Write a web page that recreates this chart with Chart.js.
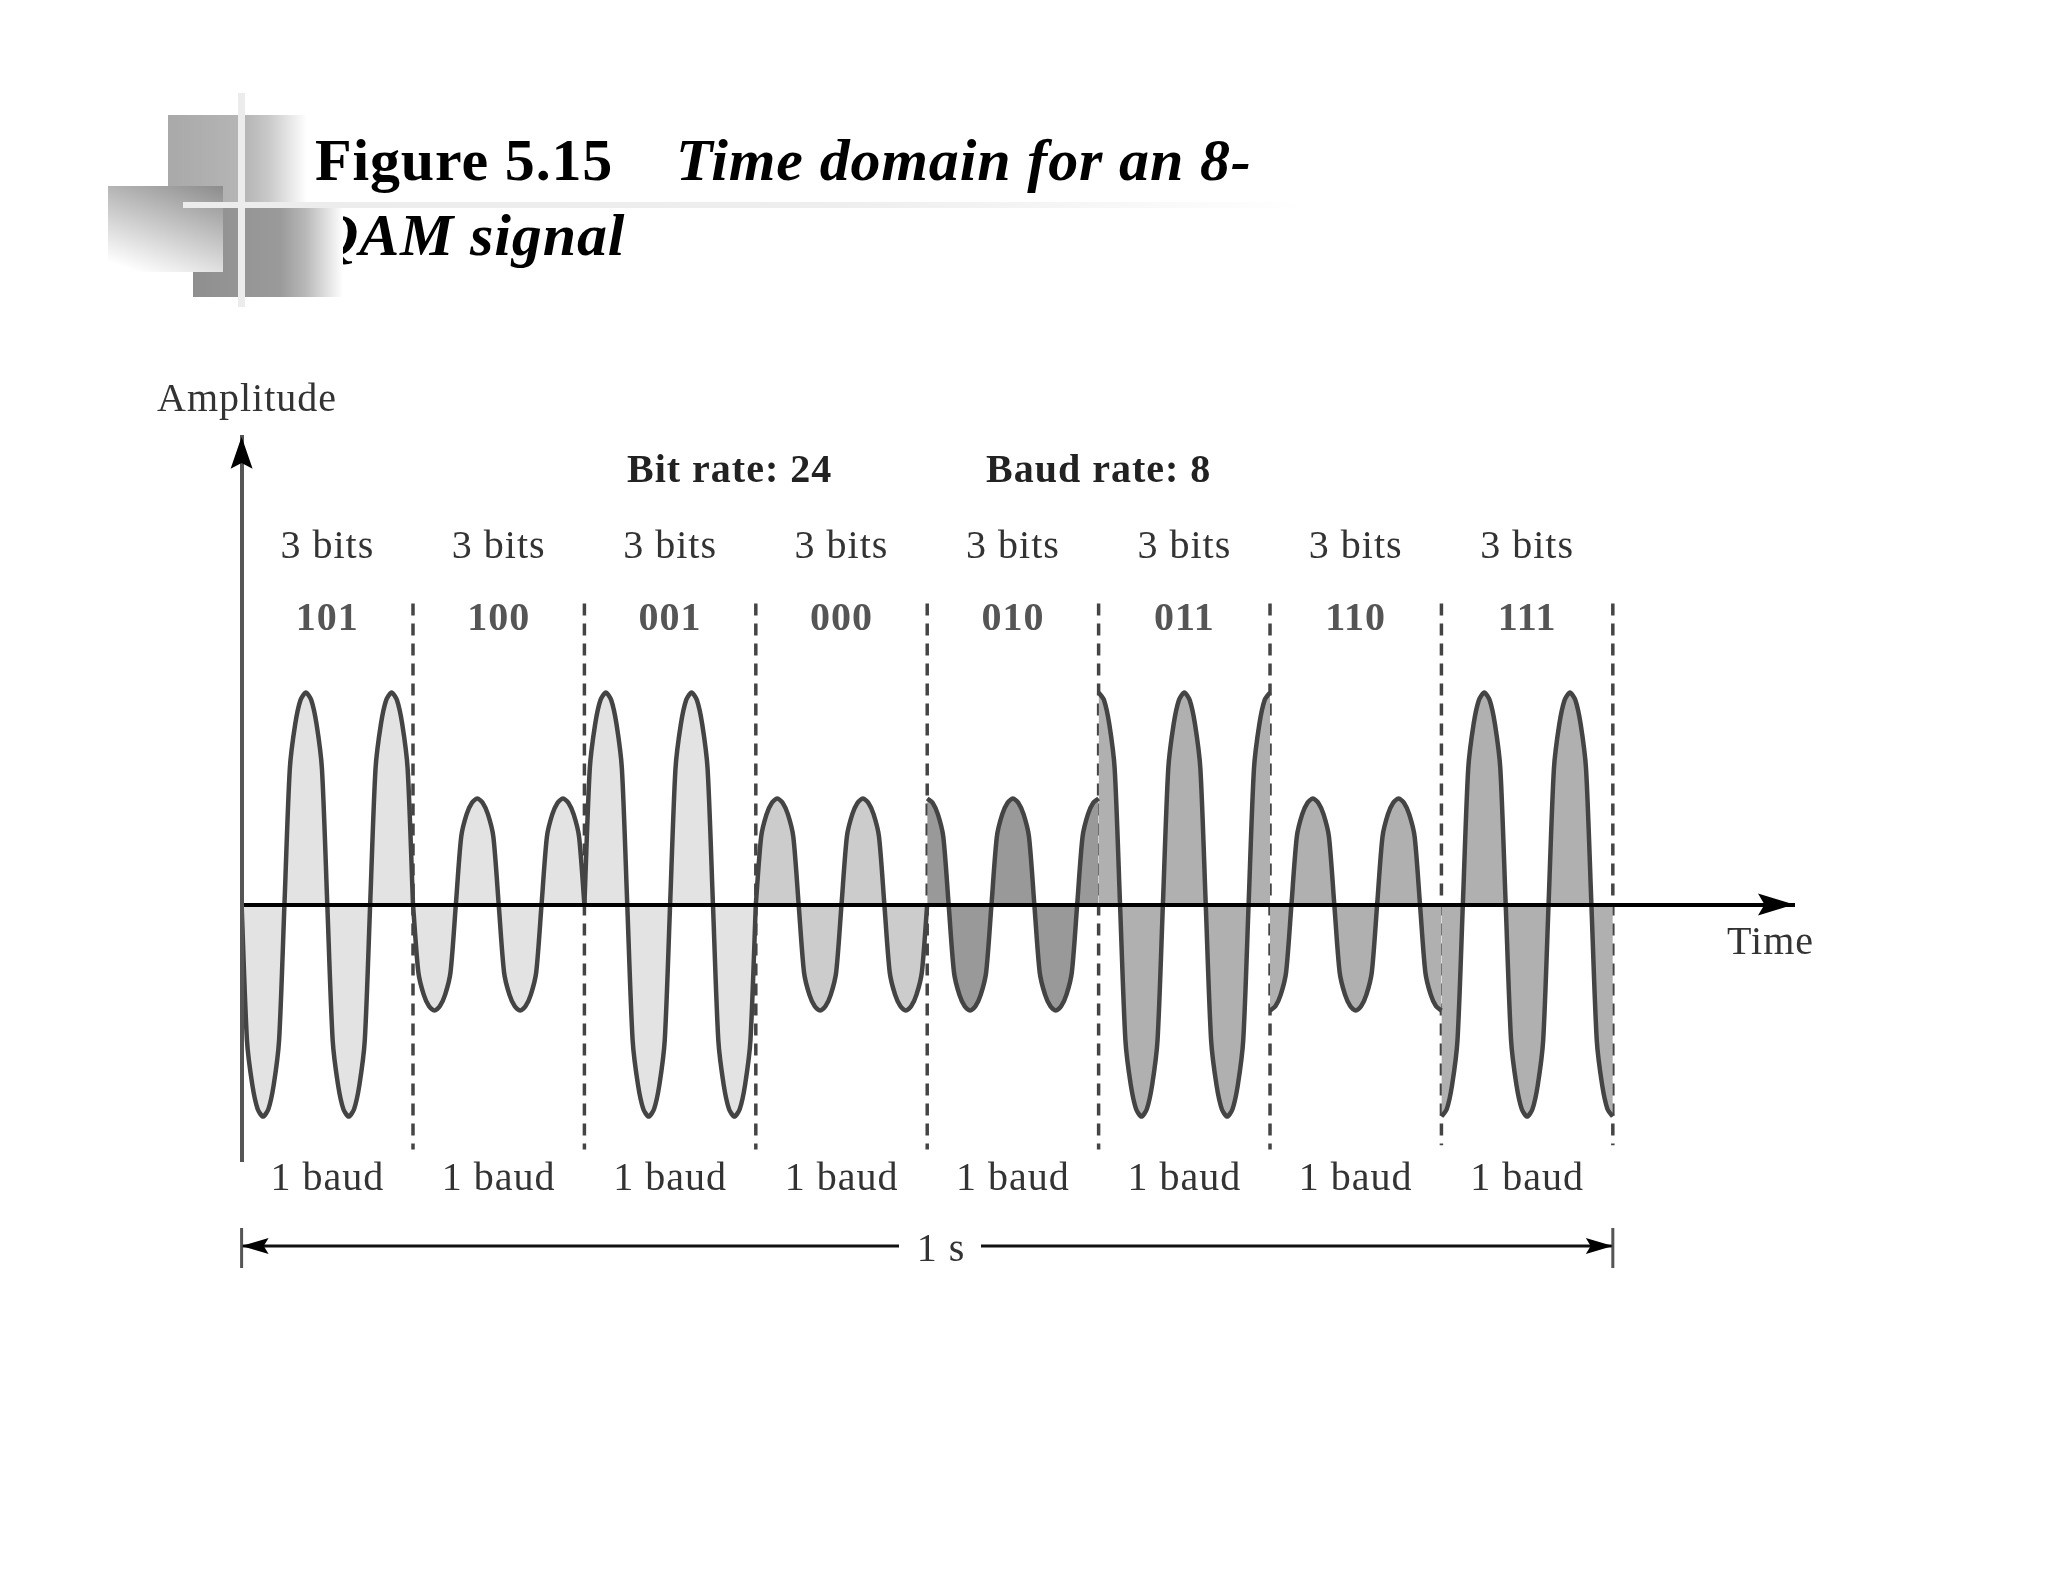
<!DOCTYPE html>
<html>
<head>
<meta charset="utf-8">
<title>Figure 5.15</title>
<script src="https://cdn.jsdelivr.net/npm/chart.js@4"></script>
<style>
  html, body { margin: 0; padding: 0; background: #fff; }
  #page { position: relative; width: 2048px; height: 1582px; overflow: hidden; }
  #wave { position: absolute; left: 0; top: 0; }
  .title { position: absolute; margin: 0; font: bold 60px/60px "Liberation Serif", serif; letter-spacing: 0.85px; color: #000; white-space: pre; }
  .title i { font-style: italic; }
  .deco { position: absolute; }
</style>
</head>
<body>
<div id="page">
  <canvas id="wave" width="2048" height="1582"></canvas>
  <div class="title" style="left:315px;top:130px">Figure 5.15</div>
  <div class="title" style="left:676px;top:130px"><i>Time domain for an 8-</i></div>
  <div class="title" style="left:315px;top:205px"><i>QAM signal</i></div>
  <!-- slide template decoration, sits over the title text -->
  <div class="deco" style="left:168px;top:115px;width:139px;height:87px;background:linear-gradient(to right,#a9a9a9 0,#b6b6b6 56%,#c8c8c8 72%,#ffffff 100%)"></div>
  <div class="deco" style="left:193px;top:208px;width:150px;height:89px;background:linear-gradient(to right,#8f8f8f 0,#9a9a9a 58%,#b8b8b8 75%,#ffffff 100%)"></div>
  <div class="deco" style="left:108px;top:186px;width:115px;height:86px;background:linear-gradient(200deg,#8c8c8c 0,#c4c4c4 45%,#ffffff 92%)"></div>
  <div class="deco" style="left:183px;top:202px;width:1126px;height:6px;background:linear-gradient(to right,#ececec 0,#eeeeee 58%,#f4f4f4 75%,#ffffff 100%)"></div>
  <div class="deco" style="left:238px;top:93px;width:7px;height:214px;background:#ececec"></div>
</div>

<script>
'use strict';

// ── Data ─────────────────────────────────────────────────────────────────────

const bitGroups = ['101', '100', '001', '000', '010', '011', '110', '111'];
const bitCounts = ['3 bits', '3 bits', '3 bits', '3 bits', '3 bits', '3 bits', '3 bits', '3 bits'];
const baudLabels = ['1 baud', '1 baud', '1 baud', '1 baud', '1 baud', '1 baud', '1 baud', '1 baud'];

// position inside one baud, two carrier cycles, four steps per quarter cycle
const sampleTimes = [
  0, 0.03125, 0.0625, 0.09375, 0.125, 0.15625, 0.1875, 0.21875,
  0.25, 0.28125, 0.3125, 0.34375, 0.375, 0.40625, 0.4375, 0.46875,
  0.5, 0.53125, 0.5625, 0.59375, 0.625, 0.65625, 0.6875, 0.71875,
  0.75, 0.78125, 0.8125, 0.84375, 0.875, 0.90625, 0.9375, 0.96875, 1,
];

const wave101 = [
  0, -1.28, -1.7, -1.93, -2, -1.93, -1.7, -1.28, 0, 1.28, 1.7, 1.93, 2, 1.93, 1.7, 1.28,
  0, -1.28, -1.7, -1.93, -2, -1.93, -1.7, -1.28, 0, 1.28, 1.7, 1.93, 2, 1.93, 1.7, 1.28, 0,
];
const wave100 = [
  0, -0.64, -0.85, -0.96, -1, -0.96, -0.85, -0.64, 0, 0.64, 0.85, 0.96, 1, 0.96, 0.85, 0.64,
  0, -0.64, -0.85, -0.96, -1, -0.96, -0.85, -0.64, 0, 0.64, 0.85, 0.96, 1, 0.96, 0.85, 0.64, 0,
];
const wave001 = [
  0, 1.28, 1.7, 1.93, 2, 1.93, 1.7, 1.28, 0, -1.28, -1.7, -1.93, -2, -1.93, -1.7, -1.28,
  0, 1.28, 1.7, 1.93, 2, 1.93, 1.7, 1.28, 0, -1.28, -1.7, -1.93, -2, -1.93, -1.7, -1.28, 0,
];
const wave000 = [
  0, 0.64, 0.85, 0.96, 1, 0.96, 0.85, 0.64, 0, -0.64, -0.85, -0.96, -1, -0.96, -0.85, -0.64,
  0, 0.64, 0.85, 0.96, 1, 0.96, 0.85, 0.64, 0, -0.64, -0.85, -0.96, -1, -0.96, -0.85, -0.64, 0,
];
const wave010 = [
  1, 0.96, 0.85, 0.64, 0, -0.64, -0.85, -0.96, -1, -0.96, -0.85, -0.64, 0, 0.64, 0.85, 0.96,
  1, 0.96, 0.85, 0.64, 0, -0.64, -0.85, -0.96, -1, -0.96, -0.85, -0.64, 0, 0.64, 0.85, 0.96, 1,
];
const wave011 = [
  2, 1.93, 1.7, 1.28, 0, -1.28, -1.7, -1.93, -2, -1.93, -1.7, -1.28, 0, 1.28, 1.7, 1.93,
  2, 1.93, 1.7, 1.28, 0, -1.28, -1.7, -1.93, -2, -1.93, -1.7, -1.28, 0, 1.28, 1.7, 1.93, 2,
];
const wave110 = [
  -1, -0.96, -0.85, -0.64, 0, 0.64, 0.85, 0.96, 1, 0.96, 0.85, 0.64, 0, -0.64, -0.85, -0.96,
  -1, -0.96, -0.85, -0.64, 0, 0.64, 0.85, 0.96, 1, 0.96, 0.85, 0.64, 0, -0.64, -0.85, -0.96, -1,
];
const wave111 = [
  -2, -1.93, -1.7, -1.28, 0, 1.28, 1.7, 1.93, 2, 1.93, 1.7, 1.28, 0, -1.28, -1.7, -1.93,
  -2, -1.93, -1.7, -1.28, 0, 1.28, 1.7, 1.93, 2, 1.93, 1.7, 1.28, 0, -1.28, -1.7, -1.93, -2,
];

const waves = [wave101, wave100, wave001, wave000, wave010, wave011, wave110, wave111];
const fillColors = ['#e3e3e3', '#e3e3e3', '#e3e3e3', '#cccccc', '#999999', '#b0b0b0', '#b0b0b0', '#b0b0b0'];

const boundaries = [1, 2, 3, 4, 5, 6, 7, 8];
const boundaryTops = [2.84, 2.84, 2.84, 2.84, 2.84, 2.84, 2.84, 2.84];
const boundaryBottoms = [-2.31, -2.31, -2.31, -2.31, -2.31, -2.31, -2.27, -2.27];

const X_MAX = 9.057;
const Y_MAX = 4.412;
const Y_MIN = -2.426;

// ── Helpers ──────────────────────────────────────────────────────────────────

function arrowHead(ctx, x, y, angle, len, half) {
  ctx.save();
  ctx.translate(x, y);
  ctx.rotate(angle);
  ctx.fillStyle = '#000';
  ctx.beginPath();
  ctx.moveTo(0, 0);
  ctx.lineTo(-len, -half);
  ctx.lineTo(-len * 0.82, 0);
  ctx.lineTo(-len, half);
  ctx.closePath();
  ctx.fill();
  ctx.restore();
}

function label(ctx, text, x, y, font, color, align) {
  ctx.font = font;
  ctx.fillStyle = color;
  ctx.textAlign = align || 'center';
  ctx.textBaseline = 'alphabetic';
  ctx.letterSpacing = '1px';
  ctx.fillText(text, x, y);
}

const SERIF = '"Liberation Serif", serif';
const NORMAL = `40px ${SERIF}`;
const BOLD = `bold 40px ${SERIF}`;

// Labels, arrowheads and the 1 s span
const annotations = {
  id: 'annotations',
  afterDraw(chart) {
    const { ctx, scales: { x, y } } = chart;
    const zero = y.getPixelForValue(0);
    const left = x.getPixelForValue(0);
    const end = x.getPixelForValue(8);

    ctx.save();
    arrowHead(ctx, x.getPixelForValue(X_MAX), zero, 0, 36, 11);
    arrowHead(ctx, left, y.getPixelForValue(Y_MAX), -Math.PI / 2, 32, 11);

    // 1 s span
    const spanY = 1246;
    ctx.strokeStyle = '#111';
    ctx.lineWidth = 3;
    ctx.beginPath();
    ctx.moveTo(left, spanY);
    ctx.lineTo(899, spanY);
    ctx.moveTo(981, spanY);
    ctx.lineTo(end, spanY);
    ctx.stroke();
    ctx.strokeStyle = '#555';
    ctx.beginPath();
    ctx.moveTo(left, 1228);
    ctx.lineTo(left, 1268);
    ctx.moveTo(end, 1228);
    ctx.lineTo(end, 1268);
    ctx.stroke();
    arrowHead(ctx, left, spanY, Math.PI, 27, 8);
    arrowHead(ctx, end, spanY, 0, 27, 8);

    label(ctx, 'Amplitude', 157, 411, NORMAL, '#333', 'left');
    label(ctx, 'Bit rate: 24', 627, 482, BOLD, '#222', 'left');
    label(ctx, 'Baud rate: 8', 986, 482, BOLD, '#222', 'left');
    label(ctx, 'Time', 1727, 954, NORMAL, '#333', 'left');
    label(ctx, '1 s', 941, 1261, NORMAL, '#333');

    bitGroups.forEach((bits, i) => {
      const cx = x.getPixelForValue(i + 0.5);
      label(ctx, bitCounts[i], cx, 558, NORMAL, '#333');
      label(ctx, bits, cx, 630, BOLD, '#555');
      label(ctx, baudLabels[i], cx, 1190, NORMAL, '#333');
    });
    ctx.restore();
  },
};

// ── Chart ────────────────────────────────────────────────────────────────────

const waveSets = waves.map((values, i) => ({
  data: values.map((v, k) => ({ x: i + sampleTimes[k], y: v })),
  showLine: true,
  tension: 0.25,
  borderColor: '#444444',
  borderWidth: 4.5,
  backgroundColor: fillColors[i],
  fill: 'origin',
  pointRadius: 0,
  order: 1,
}));

const boundarySets = boundaries.map((b, i) => ({
  data: [{ x: b, y: boundaryTops[i] }, { x: b, y: boundaryBottoms[i] }],
  showLine: true,
  borderColor: '#444444',
  borderWidth: 3.5,
  borderDash: [12, 8],
  fill: false,
  pointRadius: 0,
  order: 2,
}));

new Chart(document.getElementById('wave'), {
  type: 'scatter',
  data: { datasets: [...waveSets, ...boundarySets] },
  plugins: [annotations],
  options: {
    responsive: false,
    animation: false,
    layout: { padding: { left: 241.6, right: 254, top: 436.8, bottom: 420.3 } },
    plugins: { legend: { display: false }, title: { display: false }, tooltip: { enabled: false } },
    scales: {
      x: {
        type: 'linear',
        min: 0,
        max: X_MAX,
        position: { y: 0 },
        grid: { display: false, drawTicks: false },
        ticks: { display: false },
        border: { color: '#000', width: 4, z: 1 },
      },
      y: {
        type: 'linear',
        min: Y_MIN,
        max: Y_MAX,
        position: { x: 0 },
        grid: { display: false, drawTicks: false },
        ticks: { display: false },
        border: { color: '#555', width: 4, z: 1 },
      },
    },
  },
});
</script>
</body>
</html>
